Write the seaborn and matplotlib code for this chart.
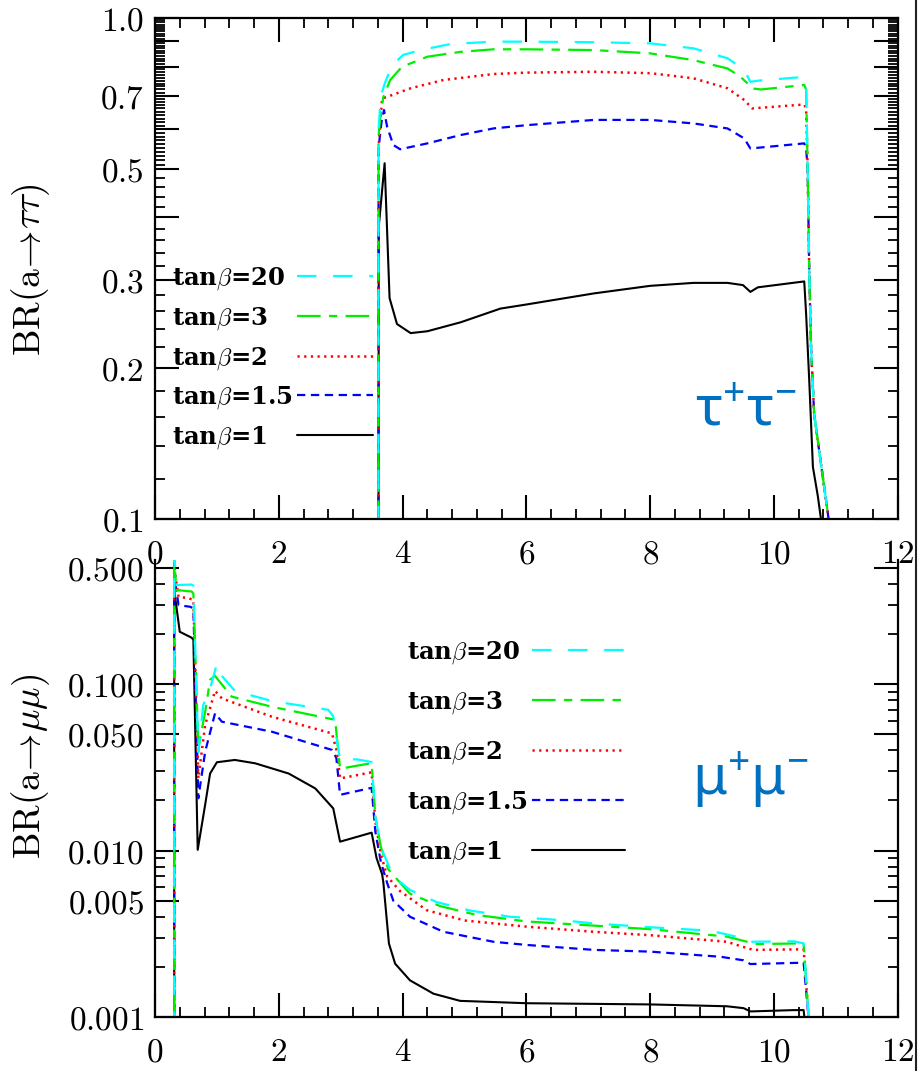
import numpy as np
import matplotlib
matplotlib.use("Agg")
import matplotlib.pyplot as plt
import seaborn as sns
from matplotlib.ticker import FixedLocator, FuncFormatter, MultipleLocator
from matplotlib.lines import Line2D

# ---------------- data ----------------
labels = ["tanβ=20", "tanβ=3", "tanβ=2", "tanβ=1.5", "tanβ=1"]

# top panel: BR(a -> tau tau)
tt_x_20 = [3.61, 3.612, 3.65, 3.72, 3.80, 3.90, 4.01, 4.29, 4.77, 5.47, 6.0, 7.0, 8.0, 8.7, 9.25, 9.45, 9.55, 9.62, 9.76, 10.38, 10.49, 10.52, 10.545, 10.57, 10.60, 10.65, 10.76, 10.87, 10.95]
tt_br_20 = [0.05, 0.60, 0.70, 0.745, 0.787, 0.82, 0.844, 0.863, 0.887, 0.897, 0.897, 0.895, 0.890, 0.870, 0.831, 0.80, 0.775, 0.746, 0.750, 0.761, 0.758, 0.735, 0.50, 0.318, 0.22, 0.162, 0.129, 0.103, 0.085]
tt_x_3 = [3.61, 3.612, 3.64, 3.69, 3.80, 3.99, 4.40, 4.94, 5.47, 6.0, 7.09, 8.0, 8.7, 9.25, 9.45, 9.57, 9.63, 9.79, 10.49, 10.52, 10.545, 10.57, 10.60, 10.65, 10.76, 10.87, 10.95]
tt_br_3 = [0.05, 0.58, 0.635, 0.696, 0.752, 0.799, 0.837, 0.856, 0.866, 0.866, 0.863, 0.85, 0.824, 0.793, 0.765, 0.741, 0.724, 0.72, 0.735, 0.72, 0.50, 0.318, 0.22, 0.162, 0.129, 0.103, 0.085]
tt_x_2 = [3.61, 3.612, 3.64, 3.67, 3.75, 4.13, 4.66, 5.47, 6.0, 7.09, 8.0, 8.7, 9.25, 9.52, 9.65, 10.49, 10.52, 10.545, 10.57, 10.60, 10.65, 10.76, 10.87, 10.95]
tt_br_2 = [0.05, 0.55, 0.62, 0.691, 0.696, 0.724, 0.752, 0.773, 0.778, 0.781, 0.776, 0.758, 0.724, 0.686, 0.66, 0.672, 0.66, 0.50, 0.318, 0.22, 0.162, 0.129, 0.103, 0.085]
tt_x_15 = [3.61, 3.612, 3.66, 3.70, 3.75, 3.85, 3.96, 4.40, 4.94, 5.47, 6.0, 7.09, 8.0, 8.7, 9.25, 9.52, 9.62, 10.49, 10.52, 10.545, 10.57, 10.60, 10.65, 10.76, 10.87, 10.95]
tt_br_15 = [0.05, 0.55, 0.62, 0.655, 0.607, 0.558, 0.547, 0.562, 0.584, 0.602, 0.611, 0.626, 0.626, 0.616, 0.602, 0.575, 0.549, 0.562, 0.55, 0.50, 0.318, 0.22, 0.162, 0.129, 0.103, 0.085]
tt_x_1 = [3.61, 3.615, 3.71, 3.79, 3.91, 4.13, 4.40, 4.94, 5.58, 6.0, 7.09, 8.0, 8.7, 9.25, 9.5, 9.62, 9.74, 10.49, 10.52, 10.57, 10.63, 10.71, 10.76, 10.82]
tt_br_1 = [0.05, 0.383, 0.513, 0.276, 0.245, 0.235, 0.237, 0.247, 0.263, 0.268, 0.282, 0.292, 0.296, 0.296, 0.293, 0.284, 0.290, 0.298, 0.257, 0.19, 0.127, 0.111, 0.10, 0.09]

# bottom panel: BR(a -> mu mu)
mm_x_20 = [0.31, 0.31, 0.35, 0.59, 0.62, 0.70, 0.78, 0.89, 1.00, 1.07, 1.29, 1.89, 2.80, 2.88, 2.99, 3.26, 3.50, 3.56, 3.65, 3.77, 3.85, 4.12, 4.55, 5.09, 5.74, 6.55, 7.09, 8.0, 8.97, 9.51, 9.62, 10.32, 10.48, 10.56, 10.6]
mm_br_20 = [0.0005, 0.60, 0.393, 0.396, 0.39, 0.039, 0.075, 0.094, 0.132, 0.113, 0.091, 0.079, 0.070, 0.064, 0.035, 0.0353, 0.034, 0.016, 0.0105, 0.0082, 0.0070, 0.0058, 0.0049, 0.00436, 0.0040, 0.00382, 0.00365, 0.00346, 0.00330, 0.00297, 0.00283, 0.00285, 0.00277, 0.001, 0.0006]
mm_x_3 = [0.31, 0.31, 0.35, 0.51, 0.59, 0.62, 0.70, 0.81, 0.89, 0.97, 1.02, 1.24, 1.89, 2.91, 2.99, 3.50, 3.56, 3.65, 3.77, 4.12, 4.61, 5.2, 6.0, 7.09, 8.0, 9.24, 9.57, 9.67, 10.48, 10.56, 10.6]
mm_br_3 = [0.0005, 0.55, 0.367, 0.362, 0.36, 0.35, 0.041, 0.068, 0.106, 0.112, 0.106, 0.084, 0.073, 0.061, 0.031, 0.0335, 0.016, 0.0105, 0.0077, 0.0055, 0.00463, 0.0041, 0.00375, 0.00354, 0.00337, 0.00304, 0.00283, 0.00274, 0.00277, 0.001, 0.0006]
mm_x_2 = [0.31, 0.31, 0.38, 0.54, 0.62, 0.70, 0.81, 0.97, 1.08, 1.89, 2.86, 2.94, 2.99, 3.50, 3.56, 3.65, 3.75, 3.96, 4.39, 5.0, 6.0, 7.09, 8.0, 9.24, 9.57, 9.67, 10.48, 10.56, 10.6]
mm_br_2 = [0.0005, 0.50, 0.334, 0.328, 0.32, 0.0271, 0.0567, 0.091, 0.082, 0.0636, 0.0505, 0.0392, 0.0271, 0.0295, 0.015, 0.0095, 0.0070, 0.0057, 0.00438, 0.00380, 0.00349, 0.00325, 0.00310, 0.00283, 0.00259, 0.00253, 0.00255, 0.001, 0.0006]
mm_x_15 = [0.31, 0.31, 0.38, 0.57, 0.62, 0.70, 0.81, 0.97, 1.08, 1.89, 2.86, 2.93, 2.99, 3.50, 3.56, 3.65, 3.75, 3.85, 4.12, 4.66, 5.47, 6.0, 7.09, 8.0, 9.14, 9.51, 9.62, 10.48, 10.56, 10.6]
mm_br_15 = [0.0005, 0.45, 0.298, 0.291, 0.285, 0.0206, 0.0392, 0.0667, 0.0594, 0.0517, 0.0402, 0.036, 0.0216, 0.0238, 0.013, 0.0085, 0.0064, 0.0050, 0.0040, 0.00325, 0.00283, 0.00271, 0.00253, 0.00247, 0.00230, 0.00219, 0.00208, 0.00212, 0.001, 0.0006]
mm_x_1 = [0.31, 0.31, 0.40, 0.59, 0.62, 0.69, 0.81, 0.89, 1.0, 1.29, 1.62, 2.16, 2.59, 2.88, 2.99, 3.50, 3.58, 3.67, 3.69, 3.78, 3.88, 4.12, 4.5, 4.93, 5.47, 6.0, 8.0, 9.24, 9.51, 9.62, 10.32, 10.48, 10.52, 10.55]
mm_br_1 = [0.0005, 0.367, 0.206, 0.19, 0.185, 0.0101, 0.0188, 0.029, 0.0339, 0.0350, 0.0334, 0.029, 0.0236, 0.0179, 0.0113, 0.0128, 0.0090, 0.0072, 0.0064, 0.00276, 0.00209, 0.00166, 0.00138, 0.00125, 0.00123, 0.00121, 0.00119, 0.00116, 0.00113, 0.00108, 0.0011, 0.0011, 0.0008, 0.0005]

top_yticks_labeled = [0.1, 0.2, 0.3, 0.5, 0.7, 1.0]
bot_yticks_labeled = [0.001, 0.005, 0.010, 0.050, 0.100, 0.500]

# ---------------- styling ----------------
sns.set_theme(style="ticks")
sns.set_style("ticks", {"axes.edgecolor": "black", "xtick.color": "black",
                        "ytick.color": "black", "xtick.direction": "in",
                        "ytick.direction": "in", "text.color": "black",
                        "axes.labelcolor": "black"})
plt.rcParams["font.family"] = ["DejaVu Serif", "DejaVu Sans"]
plt.rcParams["text.color"] = "black"
plt.rcParams["axes.labelcolor"] = "black"
plt.rcParams["mathtext.fontset"] = "cm"
# the 'custom' math font set is used only by the blue channel labels
plt.rcParams["mathtext.bf"] = "Noto Sans:bold"
plt.rcParams["mathtext.rm"] = "Noto Sans:bold"
plt.rcParams["mathtext.it"] = "Noto Sans:bold"
plt.rcParams["lines.scale_dashes"] = False

colors = ["#00FFFF", "#00EE00", "#FF0000", "#0000FF", "#000000"]
dash_styles = [(0, (14, 12)), (0, (17, 6, 6, 6)), (0, (1.6, 3.2)), (0, (6, 4)), "-"]
lws = [1.6, 1.6, 1.8, 1.6, 1.5]

fig = plt.figure(figsize=(9.18, 10.71), dpi=100)
W, H = 918.0, 1071.0
ax2 = fig.add_axes([155 / W, 1 - 1017 / H, 742.7 / W, 457 / H])
ax1 = fig.add_axes([155 / W, 1 - 519 / H, 742.7 / W, 501 / H])
ax2.set_facecolor("none")
ax1.set_facecolor("none")

top_series = [(tt_x_20, tt_br_20), (tt_x_3, tt_br_3), (tt_x_2, tt_br_2),
              (tt_x_15, tt_br_15), (tt_x_1, tt_br_1)]
bot_series = [(mm_x_20, mm_br_20), (mm_x_3, mm_br_3), (mm_x_2, mm_br_2),
              (mm_x_15, mm_br_15), (mm_x_1, mm_br_1)]

for ax, series in ((ax1, top_series), (ax2, bot_series)):
    ax.set_yscale("log")
    # black first so the coloured curves lie on top, as in the reference
    for i in [4, 3, 2, 1, 0]:
        xs, ys = series[i]
        sns.lineplot(x=xs, y=ys, ax=ax, color=colors[i], sort=False,
                     estimator=None, linewidth=lws[i], legend=False)
        ax.lines[-1].set_linestyle(dash_styles[i])

# ---------------- axes / ticks ----------------
xfmt = FuncFormatter(lambda v, p: r"$\mathrm{%d}$" % int(round(v)))
for ax in (ax1, ax2):
    ax.set_xlim(0, 12)
    ax.xaxis.set_major_locator(MultipleLocator(2))
    ax.xaxis.set_minor_locator(MultipleLocator(0.4))
    ax.xaxis.set_major_formatter(xfmt)
    ax.set_xlabel("")
    for sp in ax.spines.values():
        sp.set_linewidth(1.6)
        sp.set_color("black")
    ax.tick_params(which="major", direction="in", length=17, width=1.5,
                   top=True, right=True, labelsize=24, labelcolor="black")
    ax.tick_params(which="minor", direction="in", length=7, width=1.3,
                   top=True, right=True)
    ax.tick_params(axis="x", which="major", pad=14)
    ax.tick_params(axis="y", which="major", pad=8)

# top panel y ticks
ax1.set_ylim(0.1, 1.0)
top_major = [round(0.1 * k, 2) for k in range(1, 11)]
top_minor = [round(v, 3) for v in list(np.arange(0.12, 0.5, 0.02)) + list(np.arange(0.51, 1.0, 0.01))]
top_minor = [v for v in top_minor if abs(v * 10 - round(v * 10)) > 1e-6]
ax1.yaxis.set_major_locator(FixedLocator(top_major))
ax1.yaxis.set_minor_locator(FixedLocator(top_minor))
ax1.yaxis.set_major_formatter(FuncFormatter(
    lambda v, p: (r"$\mathrm{%.1f}$" % v) if any(abs(v - t) < 1e-6 for t in top_yticks_labeled) else ""))
ax1.yaxis.set_minor_formatter(FuncFormatter(lambda v, p: ""))

# bottom panel y ticks
ax2.set_ylim(0.001, 0.556)
ax2.yaxis.set_major_locator(FixedLocator(bot_yticks_labeled))
bot_minor = [m * d for d in (0.001, 0.01, 0.1) for m in range(2, 10)
             if not (m == 5) and m * d < 0.55]
ax2.yaxis.set_minor_locator(FixedLocator(bot_minor))
ax2.yaxis.set_major_formatter(FuncFormatter(lambda v, p: r"$\mathrm{%.3f}$" % v))
ax2.yaxis.set_minor_formatter(FuncFormatter(lambda v, p: ""))
ax2.spines["top"].set_visible(False)
ax2.tick_params(which="both", top=False)

# y labels
ax1.set_ylabel(r"$\mathrm{BR(a}\!\rightarrow\!\tau\tau\mathrm{)}$", fontsize=27, color="black")
ax1.yaxis.set_label_coords(-0.139, 0.497)
ax2.set_ylabel(r"$\mathrm{BR(a}\!\rightarrow\!\mu\mu\mathrm{)}$", fontsize=27, color="black")
ax2.yaxis.set_label_coords(-0.139, 0.549)

# ---------------- legends (text column + key column) ----------------
leg_labels = [lab.replace("β", r"$\beta$") for lab in labels]
handles = [Line2D([], [], color=c, linestyle=ls, linewidth=lw)
           for c, ls, lw in zip(colors, dash_styles, lws)]
leg_prop = {"family": "DejaVu Serif", "weight": "bold", "size": 17.5}


def two_part_legend(ax, x_text, x_key, y_top, spacing, keylen):
    common = dict(loc="upper left", frameon=False, markerfirst=True,
                  labelspacing=spacing, borderpad=0, borderaxespad=0,
                  prop=leg_prop, labelcolor="black")
    texts = ax.legend(handles, leg_labels, bbox_to_anchor=(x_text, y_top),
                      handlelength=0, handletextpad=0, **common)
    for h in texts.legend_handles:
        h.set_visible(False)
    ax.add_artist(texts)
    keys = ax.legend(handles, leg_labels, bbox_to_anchor=(x_key, y_top),
                     handlelength=keylen, handletextpad=0.3, **common)
    # the key column only shows the line samples; its (identical) labels only
    # keep the rows the same height as the text column
    for t in keys.get_texts():
        t.set_visible(False)
    return texts, keys


two_part_legend(ax1, 0.0229, 0.1912, 0.506, 0.53, 3.12)
two_part_legend(ax2, 0.3393, 0.5076, 0.826, 0.95, 3.83)

# ---------------- channel annotations ----------------
ax1.text(0.795, 0.2176, r"$\mathbf{\tau^{+}\tau^{-}}$", transform=ax1.transAxes,
         ha="center", va="center", fontsize=40, color="#0070C0",
         math_fontfamily="custom")
ax2.text(0.801, 0.519, r"$\mathbf{\mu^{+}\mu^{-}}$", transform=ax2.transAxes,
         ha="center", va="center", fontsize=40, color="#0070C0",
         math_fontfamily="custom")

# right-hand border of the composite image
fig.add_artist(Line2D([915.5 / W, 915.5 / W], [0, 1], transform=fig.transFigure,
                      color="#222222", linewidth=1.5))

fig.savefig("out.png", dpi=100, facecolor="white")
